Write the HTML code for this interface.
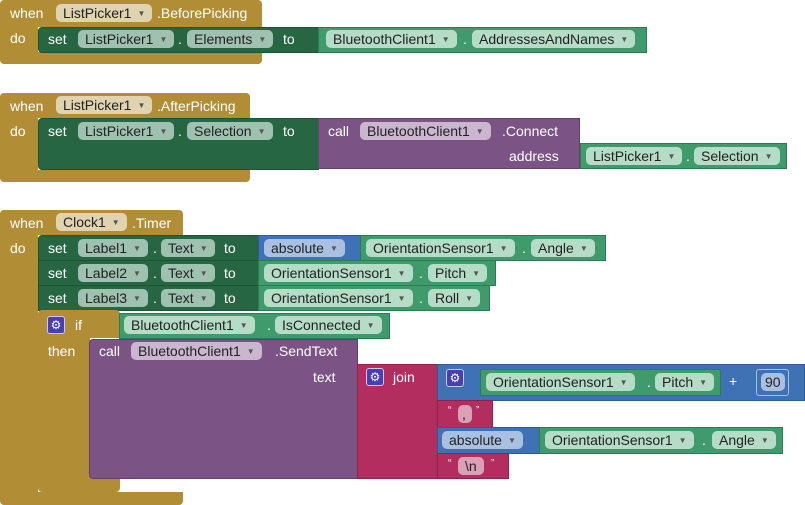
<!DOCTYPE html>
<html><head><meta charset="utf-8"><style>
body{margin:0;width:805px;height:505px;background:#fff;position:relative;overflow:hidden;font-family:"Liberation Sans",sans-serif;font-size:14px}
.b{position:absolute;box-sizing:border-box}
.g{background:#b18e35;border-radius:4px}
.dg{background:#266643;border:1px solid #1e5236}
.lg{background:#3f9a6c;border:1px solid #2f7a54}
.pu{background:#7c5385;border:1px solid #643f6c}
.pk{background:#b32d5e;border:1px solid #8f2249}
.bl{background:#3f71b5;border:1px solid #2f5a94}
.t{position:absolute;color:#fff;white-space:nowrap;line-height:16px}
.f{position:absolute;height:18px;line-height:18px;border-radius:5px;padding:0 7px;color:#222;white-space:nowrap;box-sizing:border-box}
.fy{background:#e0d3b0}
.fd{background:#9fc2b0}
.fl{background:#b4dcc6}
.fp{background:#cbb6cf}
.fb{background:#a9c0e0}
.fk{background:#dba0b5}
.ar{font-size:8px;color:#555;margin-left:6px;vertical-align:2px}
.gear{position:absolute;width:18px;height:18px;background:#4a3fb0;border:1px solid #c8c8f0;border-radius:3px;box-sizing:border-box;color:#fff;font-size:12px;line-height:16px;text-align:center}
</style></head><body>

<!-- Block 1 -->
<div class="b g" style="left:0;top:0;width:262px;height:64px"></div>
<div class="b" style="left:38px;top:27px;width:260px;height:25px;background:#fff"></div>
<div class="t" style="left:10px;top:5px">when</div>
<div class="f fy" style="left:56px;top:4px">ListPicker1<span class="ar">▼</span></div>
<div class="t" style="left:157px;top:5px">.BeforePicking</div>
<div class="t" style="left:10px;top:30px">do</div>
<div class="b dg" style="left:38px;top:27px;width:281px;height:26px;border-radius:4px 0 0 4px"></div>
<div class="t" style="left:48px;top:31px">set</div>
<div class="f fd" style="left:78px;top:30px">ListPicker1<span class="ar">▼</span></div>
<div class="t" style="left:178px;top:31px">.</div>
<div class="f fd" style="left:187px;top:30px">Elements<span class="ar">▼</span></div>
<div class="t" style="left:283px;top:31px">to</div>
<div class="b lg" style="left:318px;top:27px;width:329px;height:26px"></div>
<div class="f fl" style="left:326px;top:30px">BluetoothClient1<span class="ar">▼</span></div>
<div class="t" style="left:463px;top:31px">.</div>
<div class="f fl" style="left:472px;top:30px">AddressesAndNames<span class="ar">▼</span></div>

<!-- Block 2 -->
<div class="b g" style="left:0;top:93px;width:250px;height:89px"></div>
<div class="b" style="left:38px;top:118px;width:220px;height:52px;background:#fff"></div>
<div class="t" style="left:10px;top:98px">when</div>
<div class="f fy" style="left:56px;top:96px">ListPicker1<span class="ar">▼</span></div>
<div class="t" style="left:157px;top:98px">.AfterPicking</div>
<div class="t" style="left:10px;top:123px">do</div>
<div class="b dg" style="left:38px;top:118px;width:281px;height:52px;border-radius:4px 0 0 4px"></div>
<div class="t" style="left:48px;top:123px">set</div>
<div class="f fd" style="left:78px;top:122px">ListPicker1<span class="ar">▼</span></div>
<div class="t" style="left:178px;top:123px">.</div>
<div class="f fd" style="left:187px;top:122px">Selection<span class="ar">▼</span></div>
<div class="t" style="left:283px;top:123px">to</div>
<div class="b pu" style="left:318px;top:118px;width:262px;height:51px"></div>
<div class="t" style="left:328px;top:123px">call</div>
<div class="f fp" style="left:360px;top:122px">BluetoothClient1<span class="ar">▼</span></div>
<div class="t" style="left:502px;top:123px">.Connect</div>
<div class="t" style="left:509px;top:148px">address</div>
<div class="b lg" style="left:580px;top:143px;width:207px;height:26px"></div>
<div class="f fl" style="left:586px;top:147px">ListPicker1<span class="ar">▼</span></div>
<div class="t" style="left:686px;top:148px">.</div>
<div class="f fl" style="left:694px;top:147px">Selection<span class="ar">▼</span></div>

<!-- Block 3 -->
<div class="b g" style="left:0;top:210px;width:183px;height:295px"></div>
<div class="b" style="left:38px;top:235px;width:150px;height:257px;background:#fff"></div>
<div class="t" style="left:10px;top:215px">when</div>
<div class="f fy" style="left:56px;top:213px">Clock1<span class="ar">▼</span></div>
<div class="t" style="left:132px;top:215px">.Timer</div>
<div class="t" style="left:10px;top:240px">do</div>

<div class="b dg" style="left:38px;top:235px;width:221px;height:26px;border-radius:4px 0 0 0"></div>
<div class="t" style="left:48px;top:240px">set</div>
<div class="f fd" style="left:78px;top:239px">Label1<span class="ar">▼</span></div>
<div class="t" style="left:153px;top:240px">.</div>
<div class="f fd" style="left:161px;top:239px">Text<span class="ar">▼</span></div>
<div class="t" style="left:224px;top:240px">to</div>
<div class="b bl" style="left:258px;top:235px;width:103px;height:26px"></div>
<div class="f fb" style="left:264px;top:239px">absolute<span class="ar">▼</span></div>
<div class="b lg" style="left:360px;top:235px;width:246px;height:26px"></div>
<div class="f fl" style="left:366px;top:239px">OrientationSensor1<span class="ar">▼</span></div>
<div class="t" style="left:522px;top:240px">.</div>
<div class="f fl" style="left:531px;top:239px">Angle<span class="ar">▼</span></div>

<div class="b dg" style="left:38px;top:260px;width:221px;height:26px"></div>
<div class="t" style="left:48px;top:265px">set</div>
<div class="f fd" style="left:78px;top:264px">Label2<span class="ar">▼</span></div>
<div class="t" style="left:153px;top:265px">.</div>
<div class="f fd" style="left:161px;top:264px">Text<span class="ar">▼</span></div>
<div class="t" style="left:224px;top:265px">to</div>
<div class="b lg" style="left:258px;top:260px;width:238px;height:26px"></div>
<div class="f fl" style="left:264px;top:264px">OrientationSensor1<span class="ar">▼</span></div>
<div class="t" style="left:419px;top:265px">.</div>
<div class="f fl" style="left:428px;top:264px">Pitch<span class="ar">▼</span></div>

<div class="b dg" style="left:38px;top:285px;width:221px;height:26px"></div>
<div class="t" style="left:48px;top:290px">set</div>
<div class="f fd" style="left:78px;top:289px">Label3<span class="ar">▼</span></div>
<div class="t" style="left:153px;top:290px">.</div>
<div class="f fd" style="left:161px;top:289px">Text<span class="ar">▼</span></div>
<div class="t" style="left:224px;top:290px">to</div>
<div class="b lg" style="left:258px;top:285px;width:232px;height:26px"></div>
<div class="f fl" style="left:264px;top:289px">OrientationSensor1<span class="ar">▼</span></div>
<div class="t" style="left:419px;top:290px">.</div>
<div class="f fl" style="left:428px;top:289px">Roll<span class="ar">▼</span></div>

<!-- if -->
<div class="b g" style="left:38px;top:310px;width:82px;height:182px"></div>
<div class="b" style="left:90px;top:338px;width:30px;height:140px;background:#fff"></div>
<div class="gear" style="left:47px;top:316px">⚙</div>
<div class="t" style="left:75px;top:317px">if</div>
<div class="t" style="left:48px;top:343px">then</div>
<div class="b lg" style="left:119px;top:313px;width:271px;height:26px"></div>
<div class="f fl" style="left:124px;top:316px">BluetoothClient1<span class="ar">▼</span></div>
<div class="t" style="left:267px;top:317px">.</div>
<div class="f fl" style="left:275px;top:316px">IsConnected<span class="ar">▼</span></div>

<div class="b pu" style="left:89px;top:339px;width:269px;height:140px;border-radius:4px 0 0 4px"></div>
<div class="t" style="left:99px;top:343px">call</div>
<div class="f fp" style="left:131px;top:342px">BluetoothClient1<span class="ar">▼</span></div>
<div class="t" style="left:275px;top:343px">.SendText</div>
<div class="t" style="left:313px;top:369px">text</div>

<div class="b pk" style="left:357px;top:364px;width:81px;height:115px"></div>
<div class="gear" style="left:366px;top:368px">⚙</div>
<div class="t" style="left:393px;top:369px">join</div>

<div class="b bl" style="left:437px;top:364px;width:368px;height:37px"></div>
<div class="gear" style="left:446px;top:369px">⚙</div>
<div class="b lg" style="left:480px;top:369px;width:241px;height:27px"></div>
<div class="f fl" style="left:486px;top:373px">OrientationSensor1<span class="ar">▼</span></div>
<div class="t" style="left:647px;top:374px">.</div>
<div class="f fl" style="left:655px;top:373px">Pitch<span class="ar">▼</span></div>
<div class="t" style="left:729px;top:373px">+</div>
<div class="b" style="left:756px;top:369px;width:33px;height:27px;border:1px solid #a9c0e0;border-radius:3px"></div>
<div class="f fb" style="left:761px;top:373px;padding:0 4px">90</div>

<div class="b pk" style="left:437px;top:400px;width:56px;height:28px"></div>
<div class="t" style="left:448px;top:403px;font-size:10px">“</div>
<div class="f fk" style="left:458px;top:405px;width:14px;padding:0 4px">,</div>
<div class="t" style="left:476px;top:403px;font-size:10px">”</div>

<div class="b bl" style="left:437px;top:427px;width:103px;height:27px"></div>
<div class="f fb" style="left:442px;top:431px">absolute<span class="ar">▼</span></div>
<div class="b lg" style="left:539px;top:427px;width:244px;height:27px"></div>
<div class="f fl" style="left:545px;top:431px">OrientationSensor1<span class="ar">▼</span></div>
<div class="t" style="left:702px;top:432px">.</div>
<div class="f fl" style="left:712px;top:431px">Angle<span class="ar">▼</span></div>

<div class="b pk" style="left:437px;top:453px;width:72px;height:26px"></div>
<div class="t" style="left:448px;top:456px;font-size:10px">“</div>
<div class="f fk" style="left:458px;top:457px">\n</div>
<div class="t" style="left:491px;top:456px;font-size:10px">”</div>
</body></html>
